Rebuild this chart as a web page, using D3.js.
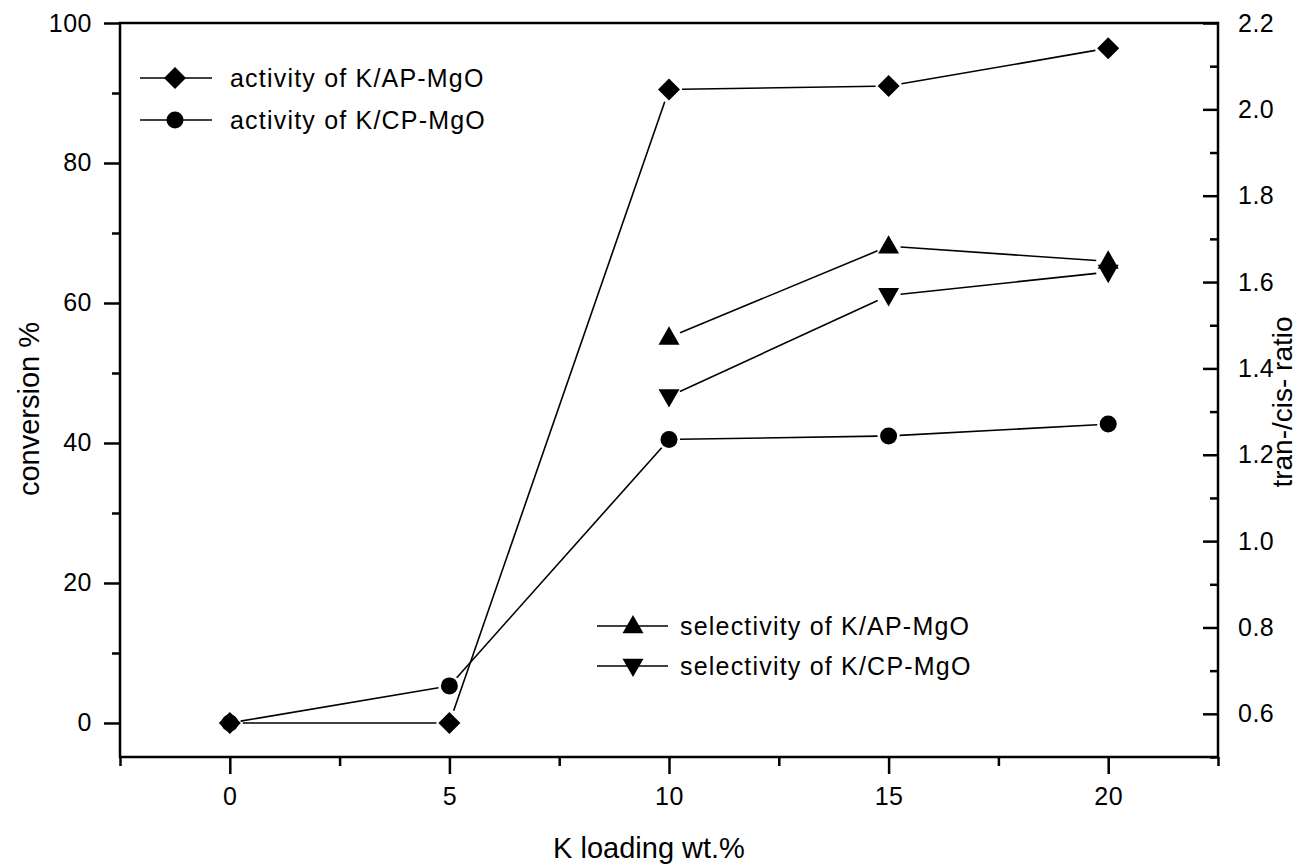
<!DOCTYPE html>
<html>
<head>
<meta charset="utf-8">
<script src="https://cdn.jsdelivr.net/npm/d3@7"></script>
<style>
  body { margin: 0; background: #fff; }
  text { font-family: "Liberation Sans", Arial, sans-serif; fill: #000; }
</style>
</head>
<body>
<svg id="chart" width="1298" height="865"></svg>
<script>
// K loading (wt.%)
var loading = [0, 5, 10, 15, 20]
var selLoading = [10, 15, 20]

// conversion % (left axis)
var activityAP = [0, 0, 90.5, 91.0, 96.4]
var activityCP = [0, 5.3, 40.5, 41.0, 42.7]

// tran-/cis- ratio (right axis)
var selectivityAP = [1.472, 1.683, 1.648]
var selectivityCP = [1.335, 1.569, 1.623]

var xTicks = [0, 5, 10, 15, 20]
var xMinor = [-2.5, 2.5, 7.5, 12.5, 17.5, 22.5]
var leftTicks = [0, 20, 40, 60, 80, 100]
var leftMinor = [10, 30, 50, 70, 90]
var rightTicks = [0.6, 0.8, 1.0, 1.2, 1.4, 1.6, 1.8, 2.0, 2.2]
var rightMinor = [0.5, 0.7, 0.9, 1.1, 1.3, 1.5, 1.7, 1.9, 2.1]

var legendTop = ["activity of K/AP-MgO", "activity of K/CP-MgO"]
var legendBottom = ["selectivity of K/AP-MgO", "selectivity of K/CP-MgO"]

var plotL = 120, plotR = 1218, plotT = 23, plotB = 757

var svg = d3.select("#chart")

var x = d3.scaleLinear().domain([-2.5, 22.5]).range([plotL, plotR])
var yL = d3.scaleLinear().domain([-4.86, 100]).range([plotB, plotT])
var yR = d3.scaleLinear().domain([0.5, 2.2]).range([plotB, plotT])

// symbols
function diamond(g, s) {
  g.append("path").attr("d", "M0," + (-s) + "L" + s + ",0L0," + s + "L" + (-s) + ",0Z")
}
function circle(g, s) {
  g.append("circle").attr("r", s)
}
function triUp(g, s) {
  g.append("path").attr("d", "M0," + (-s * 1.05) + "L" + s + "," + (s * 0.7) + "L" + (-s) + "," + (s * 0.7) + "Z")
}
function triDown(g, s) {
  g.append("path").attr("d", "M0," + (s * 1.05) + "L" + s + "," + (-s * 0.7) + "L" + (-s) + "," + (-s * 0.7) + "Z")
}

var series = [
  { xs: loading, ys: activityAP, y: yL, sym: diamond, size: 11, gap: 13 },
  { xs: loading, ys: activityCP, y: yL, sym: circle, size: 8.5, gap: 11 },
  { xs: selLoading, ys: selectivityAP, y: yR, sym: triUp, size: 10.5, gap: 12 },
  { xs: selLoading, ys: selectivityCP, y: yR, sym: triDown, size: 10.5, gap: 12 }
]

// axes
var axisG = svg.append("g")

axisG.append("g").attr("transform", "translate(" + plotL + ",0)")
  .call(d3.axisLeft(yL).tickValues(leftTicks).tickSize(16).tickPadding(12).tickFormat(d3.format("d")))
axisG.append("g").attr("transform", "translate(" + plotL + ",0)")
  .call(d3.axisLeft(yL).tickValues(leftMinor).tickSize(8).tickFormat(""))

axisG.append("g").attr("transform", "translate(" + plotR + ",0)")
  .call(d3.axisRight(yR).tickValues(rightTicks).tickSizeInner(-15).tickSizeOuter(0).tickPadding(20).tickFormat(d3.format(".1f")))
axisG.append("g").attr("transform", "translate(" + plotR + ",0)")
  .call(d3.axisRight(yR).tickValues(rightMinor).tickSizeInner(-8).tickSizeOuter(0).tickFormat(""))

axisG.append("g").attr("transform", "translate(0," + plotB + ")")
  .call(d3.axisBottom(x).tickValues(xTicks).tickSize(17).tickPadding(13).tickFormat(d3.format("d")))
axisG.append("g").attr("transform", "translate(0," + plotB + ")")
  .call(d3.axisBottom(x).tickValues(xMinor).tickSize(9).tickFormat(""))

axisG.selectAll(".domain").remove()
axisG.selectAll(".tick line").attr("stroke", "#000").attr("stroke-width", 2.5)
axisG.selectAll("g").attr("font-family", null).attr("font-size", null)
axisG.selectAll(".tick text").attr("font-size", 25).attr("letter-spacing", 0.5)

// frame
svg.append("rect")
  .attr("x", plotL).attr("y", plotT)
  .attr("width", plotR - plotL).attr("height", plotB - plotT)
  .attr("fill", "none").attr("stroke", "#000").attr("stroke-width", 2.5)

// lines, broken a little before each marker
series.forEach(function(s) {
  var pts = s.xs.map(function(v, i) { return [x(v), s.y(s.ys[i])] })
  for (var i = 0; i < pts.length - 1; i++) {
    var a = pts[i], b = pts[i + 1]
    var dx = b[0] - a[0], dy = b[1] - a[1]
    var len = Math.sqrt(dx * dx + dy * dy)
    if (len <= 2 * s.gap) continue
    var ux = dx / len, uy = dy / len
    svg.append("line")
      .attr("x1", a[0] + ux * s.gap).attr("y1", a[1] + uy * s.gap)
      .attr("x2", b[0] - ux * s.gap).attr("y2", b[1] - uy * s.gap)
      .attr("stroke", "#000").attr("stroke-width", 1.6)
  }
})

// markers
series.forEach(function(s) {
  svg.append("g").selectAll("g")
    .data(s.xs.map(function(v, i) { return [v, s.ys[i]] }))
    .enter()
    .append("g")
    .attr("transform", function(d) { return "translate(" + x(d[0]) + "," + s.y(d[1]) + ")" })
    .each(function() { s.sym(d3.select(this), s.size) })
    .selectAll("path, circle").attr("fill", "#000")
})

// legends
function legend(labels, syms, lx0, lx1, mx, tx, ys, fs) {
  labels.forEach(function(label, i) {
    var s = syms[i]
    svg.append("line").attr("x1", lx0).attr("x2", lx1).attr("y1", ys[i]).attr("y2", ys[i])
      .attr("stroke", "#000").attr("stroke-width", 1.6)
    var g = svg.append("g").attr("transform", "translate(" + mx + "," + ys[i] + ")")
    s.sym(g, s.size)
    g.selectAll("path, circle").attr("fill", "#000")
    svg.append("text").attr("x", tx).attr("y", ys[i]).attr("dy", "0.35em")
      .attr("font-size", fs).attr("letter-spacing", 1.2).text(label)
  })
}
legend(legendTop, [series[0], series[1]], 140, 212, 175, 230, [78, 120], 25)
legend(legendBottom, [series[2], series[3]], 597, 668, 633, 680, [626, 666], 25)

// axis titles
svg.append("text")
  .attr("transform", "translate(" + 39 + "," + 409 + ") rotate(-90)")
  .attr("text-anchor", "middle").attr("font-size", 29)
  .text("conversion %")

svg.append("text")
  .attr("transform", "translate(" + 1292 + "," + 402 + ") rotate(-90)")
  .attr("text-anchor", "middle").attr("font-size", 28)
  .text("tran-/cis-  ratio")

svg.append("text")
  .attr("x", 649).attr("y", 858)
  .attr("text-anchor", "middle").attr("font-size", 29)
  .text("K loading wt.%")
</script>
</body>
</html>
